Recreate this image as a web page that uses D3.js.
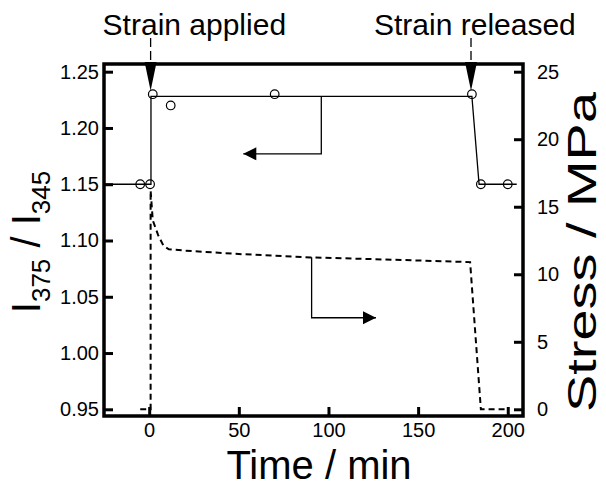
<!DOCTYPE html>
<html>
<head>
<meta charset="utf-8">
<script src="https://cdn.jsdelivr.net/npm/d3@7"></script>
<style>
  body { margin: 0; background: #fff; }
  svg { display: block; font-family: 'Liberation Sans', Arial, Helvetica, sans-serif; }
</style>
</head>
<body>
<svg id="chart" width="606" height="487"></svg>
<script>
// ratio I375/I345, open circles
const ratioTime = [-5, 0.5, 2, 12, 70, 180, 185, 200]
const ratioValue = [1.15, 1.15, 1.23, 1.22, 1.23, 1.23, 1.15, 1.15]

// solid guide line through the ratio points
const stepTime = [-25.2, 1, 1, 180, 184, 205]
const stepValue = [1.15, 1.15, 1.228, 1.228, 1.15, 1.15]

// stress, dashed
const stressTime = [-5, 0.8, 0.8, 2, 5, 8, 11, 20, 50, 90, 130, 179, 185, 200]
const stressValue = [0, 0, 16.2, 14.0, 12.9, 12.1, 11.85, 11.75, 11.5, 11.25, 11.1, 10.9, 0, 0]

const timeTicks = [0, 50, 100, 150, 200]
const ratioTicks = [0.95, 1.00, 1.05, 1.10, 1.15, 1.20, 1.25]
const stressTicks = [0, 5, 10, 15, 20, 25]

// event markers (time in min) and the two axis-pointer arrows (data units)
const eventTime = [0.8, 179.5]
const eventLabel = ['Strain applied', 'Strain released']
const ratioArrow = [[96, 1.228], [96, 1.177], [52.5, 1.177]]
const stressArrow = [[90.6, 11.26], [90.6, 6.78], [126.5, 6.78]]

const svg = d3.select('#chart')
const mLeft = 104, mRight = 523, mTop = 64, mBottom = 416

const x = d3.scaleLinear().domain([-25.2, 208.5]).range([mLeft, mRight])
const y = d3.scaleLinear().domain([0.94405, 1.25684]).range([mBottom, mTop])
const y2 = d3.scaleLinear().domain([-0.496, 25.57]).range([mBottom, mTop])

svg.append('defs').append('clipPath').attr('id', 'clip')
  .append('rect').attr('x', mLeft).attr('y', mTop)
  .attr('width', mRight - mLeft).attr('height', mBottom - mTop)

// axes, ticks pointing inward
svg.append('g')
  .attr('transform', 'translate(0,' + mBottom + ')')
  .call(d3.axisBottom(x).tickValues(timeTicks).tickSizeInner(-9).tickSizeOuter(0).tickPadding(7))
svg.append('g')
  .attr('transform', 'translate(' + mLeft + ',0)')
  .call(d3.axisLeft(y).tickValues(ratioTicks).tickFormat(d3.format('.2f')).tickSizeInner(-9).tickSizeOuter(0).tickPadding(5))
svg.append('g')
  .attr('transform', 'translate(' + mRight + ',0)')
  .call(d3.axisRight(y2).tickValues(stressTicks).tickSizeInner(-9).tickSizeOuter(0).tickPadding(14))

svg.selectAll('.domain').remove()
svg.selectAll('.tick line').attr('stroke', '#000').attr('stroke-width', 3)
svg.selectAll('.tick text').attr('font-size', 20).attr('fill', '#000')
  .attr('font-family', "'Liberation Sans', Arial, sans-serif")

svg.append('rect')
  .attr('x', mLeft).attr('y', mTop)
  .attr('width', mRight - mLeft).attr('height', mBottom - mTop)
  .attr('fill', 'none').attr('stroke', '#000').attr('stroke-width', 3.5)

const plot = svg.append('g').attr('clip-path', 'url(#clip)')

// stress curve
plot.append('path')
  .datum(stressTime.map((t, i) => [t, stressValue[i]]))
  .attr('fill', 'none').attr('stroke', '#000')
  .attr('stroke-width', 2).attr('stroke-dasharray', '6,4')
  .attr('d', d3.line().x(d => x(d[0])).y(d => y2(d[1])))

// ratio guide line
plot.append('path')
  .datum(stepTime.map((t, i) => [t, stepValue[i]]))
  .attr('fill', 'none').attr('stroke', '#000').attr('stroke-width', 1.3)
  .attr('d', d3.line().x(d => x(d[0])).y(d => y(d[1])))

plot.selectAll('circle')
  .data(ratioTime.map((t, i) => [t, ratioValue[i]]))
  .enter()
  .append('circle')
  .attr('cx', d => x(d[0]))
  .attr('cy', d => y(d[1]))
  .attr('r', 4.3)
  .attr('fill', 'none').attr('stroke', '#000').attr('stroke-width', 1.2)

// arrows pointing to the axis each curve belongs to
function axisArrow(pts, ys) {
  const p = pts.map(d => [x(d[0]), ys(d[1])])
  svg.append('path')
    .attr('d', d3.line()(p))
    .attr('fill', 'none').attr('stroke', '#000').attr('stroke-width', 1.3)
  const tip = p[2], dir = Math.sign(p[2][0] - p[1][0])
  svg.append('path')
    .attr('d', d3.line()([tip, [tip[0] - dir * 13, tip[1] - 6.5], [tip[0] - dir * 13, tip[1] + 6.5]]) + 'Z')
    .attr('fill', '#000')
}
axisArrow(ratioArrow, y)
axisArrow(stressArrow, y2)

// strain applied / released markers
eventTime.forEach((t, i) => {
  const ex = x(t)
  svg.append('line')
    .attr('x1', ex).attr('x2', ex).attr('y1', 38).attr('y2', mTop)
    .attr('stroke', '#000').attr('stroke-width', 1.3).attr('stroke-dasharray', '9,4')
  svg.append('path')
    .attr('d', d3.line()([[ex - 6, mTop - 2], [ex + 6, mTop - 2], [ex, y(1.233)]]) + 'Z')
    .attr('fill', '#000')
  svg.append('text')
    .attr('x', i === 0 ? ex - 48 : ex - 97)
    .attr('y', 35)
    .attr('font-size', 30)
    .text(eventLabel[i])
})

// axis titles
svg.append('text')
  .attr('x', 319).attr('y', 478.5)
  .attr('text-anchor', 'middle')
  .attr('font-size', 40)
  .text('Time / min')

const yl = svg.append('text')
  .attr('transform', 'translate(40,242) rotate(-90)')
  .attr('text-anchor', 'middle')
  .attr('font-size', 40)
yl.append('tspan').text('I')
yl.append('tspan').attr('font-size', 26).attr('dy', 10).text('375')
yl.append('tspan').attr('dy', -10).text(' / I')
yl.append('tspan').attr('font-size', 26).attr('dy', 10).text('345')

svg.append('text')
  .attr('transform', 'translate(596,252) rotate(-90)')
  .attr('text-anchor', 'middle')
  .attr('font-size', 41)
  .attr('textLength', 320)
  .attr('lengthAdjust', 'spacingAndGlyphs')
  .text('Stress / MPa')
</script>
</body>
</html>
